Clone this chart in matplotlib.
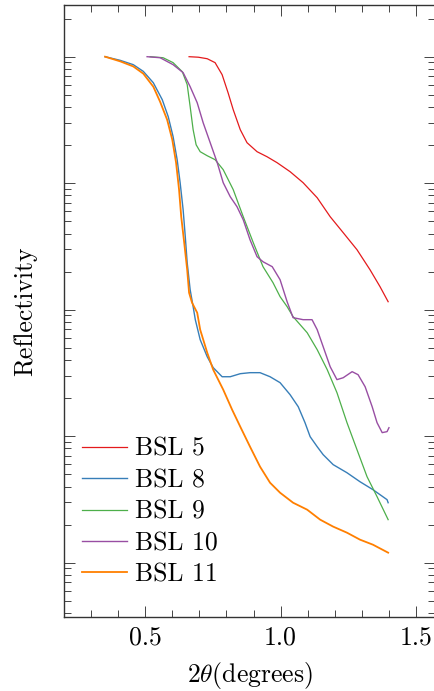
import numpy as np
import matplotlib
matplotlib.use('Agg')
import matplotlib.pyplot as plt
from matplotlib.ticker import MultipleLocator, LogLocator, NullFormatter, FormatStrFormatter

plt.rcParams.update({
    'font.family': 'serif',
    'font.serif': ['cmr10'],
    'mathtext.fontset': 'cm',
    'axes.formatter.use_mathtext': True,
    'font.size': 18.5,
})

# Values (x = 2theta in degrees, y = log10 of reflectivity)
x_bsl5 = [0.662, 0.696, 0.729, 0.758, 0.784, 0.806, 0.825, 0.851, 0.876, 0.913, 0.950,
          0.987, 1.035, 1.083, 1.135, 1.183, 1.231, 1.282, 1.330, 1.367, 1.397]
y_bsl5 = [0.0, -0.004, -0.016, -0.047, -0.142, -0.285, -0.419, -0.577, -0.680, -0.751,
          -0.791, -0.838, -0.909, -0.996, -1.115, -1.265, -1.391, -1.526, -1.684, -1.818,
          -1.937]

x_bsl8 = [0.352, 0.408, 0.456, 0.493, 0.530, 0.563, 0.585, 0.603, 0.618, 0.629, 0.640,
          0.648, 0.655, 0.666, 0.677, 0.685, 0.703, 0.729, 0.751, 0.784, 0.814, 0.851,
          0.887, 0.924, 0.961, 0.998, 1.035, 1.065, 1.090, 1.109, 1.135, 1.157, 1.194,
          1.245, 1.293, 1.341, 1.393, 1.397]
y_bsl8 = [0.0, -0.029, -0.063, -0.116, -0.206, -0.340, -0.474, -0.632, -0.814, -0.996,
          -1.209, -1.423, -1.628, -1.842, -1.976, -2.079, -2.237, -2.372, -2.458, -2.530,
          -2.530, -2.506, -2.498, -2.498, -2.530, -2.577, -2.672, -2.767, -2.893, -3.004,
          -3.083, -3.146, -3.225, -3.289, -3.360, -3.423, -3.502, -3.526]

x_bsl9 = [0.518, 0.566, 0.603, 0.637, 0.655, 0.666, 0.677, 0.688, 0.703, 0.729, 0.758,
          0.788, 0.825, 0.862, 0.899, 0.935, 0.972, 0.998, 1.024, 1.046, 1.098, 1.135,
          1.172, 1.208, 1.245, 1.282, 1.319, 1.356, 1.397]
y_bsl9 = [0.0, -0.008, -0.047, -0.119, -0.220, -0.395, -0.577, -0.696, -0.751, -0.783,
          -0.814, -0.893, -1.051, -1.265, -1.470, -1.660, -1.787, -1.897, -1.976, -2.055,
          -2.182, -2.316, -2.474, -2.656, -2.893, -3.107, -3.320, -3.478, -3.660]

x_bsl10 = [0.507, 0.555, 0.603, 0.640, 0.666, 0.692, 0.714, 0.740, 0.766, 0.788, 0.814,
           0.839, 0.862, 0.887, 0.913, 0.935, 0.969, 0.998, 1.024, 1.046, 1.083, 1.116,
           1.135, 1.157, 1.183, 1.208, 1.231, 1.264, 1.286, 1.312, 1.338, 1.356, 1.375,
           1.393, 1.400]
y_bsl10 = [0.0, -0.008, -0.063, -0.126, -0.237, -0.364, -0.522, -0.680, -0.838, -0.996,
           -1.107, -1.186, -1.289, -1.447, -1.581, -1.621, -1.660, -1.763, -1.937, -2.063,
           -2.079, -2.079, -2.158, -2.292, -2.451, -2.553, -2.538, -2.490, -2.514, -2.609,
           -2.767, -2.893, -2.972, -2.964, -2.933]

x_bsl11 = [0.352, 0.408, 0.456, 0.493, 0.530, 0.555, 0.581, 0.600, 0.614, 0.625, 0.633,
           0.644, 0.655, 0.662, 0.673, 0.692, 0.703, 0.729, 0.751, 0.788, 0.821, 0.851,
           0.887, 0.924, 0.961, 0.998, 1.046, 1.098, 1.146, 1.194, 1.245, 1.293, 1.341,
           1.397]
y_bsl11 = [0.0, -0.037, -0.077, -0.134, -0.237, -0.356, -0.498, -0.656, -0.838, -1.051,
           -1.265, -1.470, -1.684, -1.866, -1.945, -2.024, -2.158, -2.340, -2.474, -2.632,
           -2.791, -2.925, -3.083, -3.241, -3.368, -3.447, -3.526, -3.581, -3.660, -3.715,
           -3.763, -3.818, -3.858, -3.921]

labels = ['BSL 5', 'BSL 8', 'BSL 9', 'BSL 10', 'BSL 11']
colors = ['#e41a1c', '#377eb8', '#4daf4a', '#984ea3', '#ff7f00']
widths = [0.9, 1.0, 0.9, 1.0, 1.3]
series = [(x_bsl5, y_bsl5), (x_bsl8, y_bsl8), (x_bsl9, y_bsl9),
          (x_bsl10, y_bsl10), (x_bsl11, y_bsl11)]

fig = plt.figure(figsize=(4.35, 6.91), dpi=100)
ax = fig.add_axes([0.147, 0.107, 0.853, 0.886])

for (xs, ys), lab, col, lw in zip(series, labels, colors, widths):
    ax.plot(xs, 10 ** np.array(ys), color=col, lw=lw, label=lab)

ax.set_yscale('log')
ax.set_xlim(0.2, 1.57)
ax.set_ylim(10 ** -4.43, 10 ** 0.41)

ax.xaxis.set_major_locator(MultipleLocator(0.5))
ax.xaxis.set_minor_locator(MultipleLocator(0.1))
ax.xaxis.set_major_formatter(FormatStrFormatter('%.1f'))
ax.yaxis.set_major_locator(LogLocator(base=10, numticks=20))
ax.yaxis.set_minor_locator(LogLocator(base=10, subs=np.arange(2, 10), numticks=20))
ax.yaxis.set_major_formatter(NullFormatter())
ax.yaxis.set_minor_formatter(NullFormatter())

ax.tick_params(which='both', direction='in', top=True, right=True,
               color='#444444', width=0.7)
ax.tick_params(which='major', length=8)
ax.tick_params(which='minor', length=5.3)
ax.tick_params(axis='x', pad=6)
for sp in ax.spines.values():
    sp.set_linewidth(1.0)
    sp.set_color('#333333')

ax.set_xlabel(r'$2\theta$(degrees)', labelpad=8)
ax.set_ylabel('Reflectivity', labelpad=16)

ax.legend(loc='lower left', bbox_to_anchor=(0.05, 0.05), frameon=False,
          handlelength=1.75, handletextpad=0.3, labelspacing=0.3, borderpad=0,
          borderaxespad=0)

fig.savefig('out.png', dpi=100)
